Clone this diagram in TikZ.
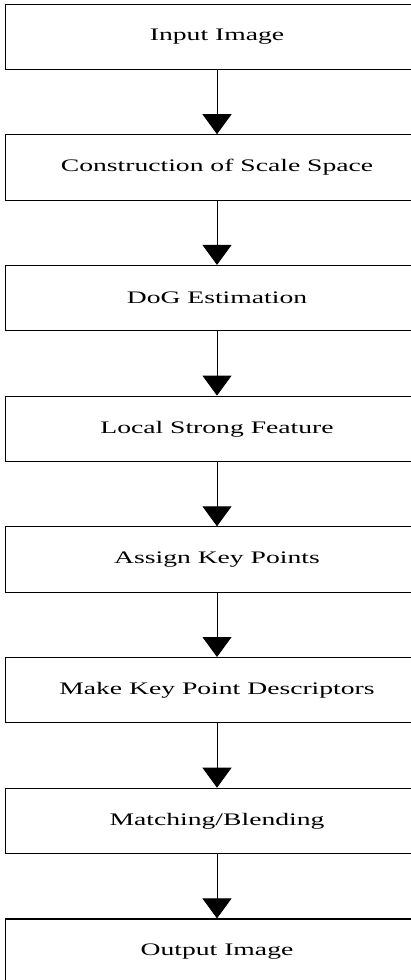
\documentclass[tikz,border=0pt]{standalone}
\usepackage{fontspec}
\setmainfont[FakeStretch=1.57]{Liberation Serif}
\usetikzlibrary{arrows.meta}
\begin{document}
\begin{tikzpicture}[x=1pt,y=-1pt,
  stepbox/.style={draw=black,line width=1.1pt,minimum width=423.4pt,minimum height=65.3pt,inner sep=0pt,
    font=\fontsize{17.6}{20}\selectfont},
  arr/.style={line width=0.9pt,-{Triangle[width=29pt,length=20pt]}}]
\clip (0,0) rectangle (411,980);
\fill[white] (0,0) rectangle (411,980);
\def\bx{217}
\node[stepbox] (b1) at (\bx,36.7) {Input Image};
\node[stepbox] (b2) at (\bx,167.4) {Construction of Scale Space};
\node[stepbox] (b3) at (\bx,298.1) {DoG Estimation};
\node[stepbox] (b4) at (\bx,428.8) {Local Strong Feature};
\node[stepbox] (b5) at (\bx,559.5) {Assign Key Points};
\node[stepbox] (b6) at (\bx,690.2) {Make Key Point Descriptors};
\node[stepbox] (b7) at (\bx,820.9) {Matching/Blending};
\node[stepbox] (b8) at (\bx,951.6) {Output Image};
\foreach \a/\b in {b1/b2,b2/b3,b3/b4,b4/b5,b5/b6,b6/b7,b7/b8}
  \draw[arr] (\a.south) -- (\b.north);
\end{tikzpicture}
\end{document}
